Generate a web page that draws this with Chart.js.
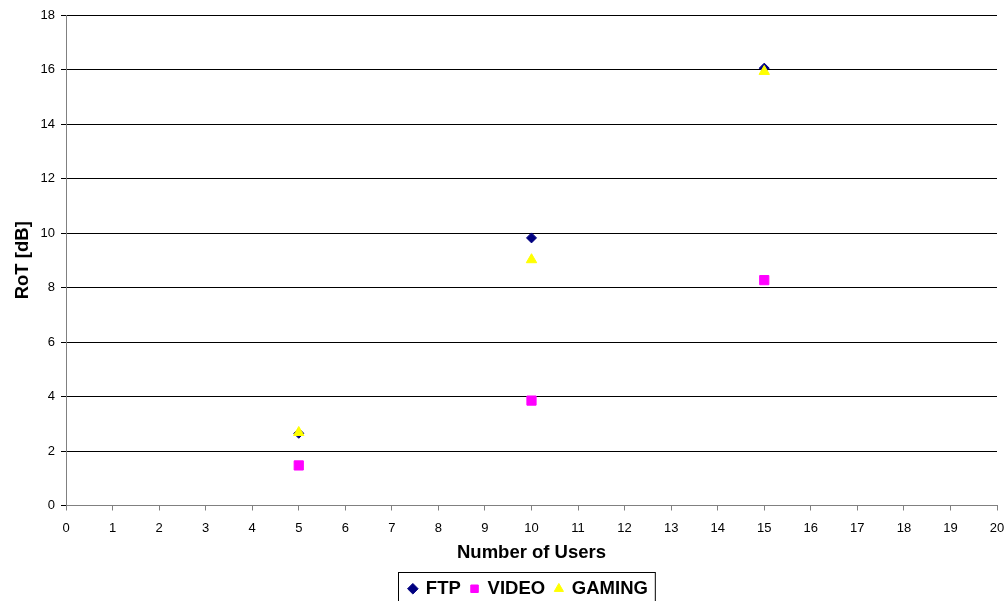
<!DOCTYPE html>
<html>
<head>
<meta charset="utf-8">
<script src="https://cdn.jsdelivr.net/npm/chart.js@4"></script>
<style>
  html, body { margin: 0; padding: 0; background: #fff; overflow: hidden; }
  #wrap { width: 1007px; height: 601px; overflow: hidden; }
</style>
</head>
<body>
<div id="wrap"><canvas id="chart" width="1007" height="608"></canvas></div>
<script>
const users = [5, 10, 15];
const ftp = [2.65, 9.82, 16.05];
const video = [1.47, 3.85, 8.27];
const gaming = [2.68, 9.02, 15.93];

const FONT = 'Arial, "Liberation Sans", sans-serif';

function toPoints(xs, ys) {
  return xs.map((x, i) => ({ x, y: ys[i] }));
}

// Excel-style frame round the legend, legend nudged right like the original
const legendBox = {
  id: 'legendBox',
  afterLayout(chart) {
    const lg = chart.legend;
    if (!lg) return;
    lg.left += 30;
    lg.right += 30;
  },
  afterDraw(chart) {
    const lg = chart.legend;
    if (!lg || !lg.legendHitBoxes.length) return;
    const boxes = lg.legendHitBoxes;
    const left = Math.min(...boxes.map(b => b.left)) - 11;
    const right = Math.max(...boxes.map(b => b.left + b.width)) + 7;
    const top = boxes[0].top - 8;
    const ctx = chart.ctx;
    ctx.save();
    ctx.strokeStyle = '#000';
    ctx.lineWidth = 1;
    ctx.strokeRect(Math.round(left) + 0.5, Math.round(top) + 0.5, right - left, 60);
    ctx.restore();
  }
};

new Chart(document.getElementById('chart'), {
  type: 'scatter',
  data: {
    datasets: [
      { label: 'FTP', data: toPoints(users, ftp), pointStyle: 'rectRot', pointRadius: 5, backgroundColor: '#000080', borderColor: '#000080', borderWidth: 1, order: 3 },
      { label: 'VIDEO', data: toPoints(users, video), pointStyle: 'rect', pointRadius: 6.5, backgroundColor: '#ff00ff', borderColor: '#ff00ff', borderWidth: 1, order: 2 },
      { label: 'GAMING', data: toPoints(users, gaming), pointStyle: 'triangle', pointRadius: 6, backgroundColor: '#ffff00', borderColor: '#ffff00', borderWidth: 1, order: 1 },
    ],
  },
  options: {
    responsive: false,
    animation: false,
    layout: { padding: { top: 15, right: 10, left: 0, bottom: 0 } },
    plugins: {
      tooltip: { enabled: false },
      legend: {
        position: 'bottom',
        labels: {
          usePointStyle: true,
          boxWidth: 7.5,
          boxHeight: 7.5,
          padding: 10,
          color: '#000',
          font: { family: FONT, size: 18.5, weight: 'bold' },
          sort: (a, b) => a.datasetIndex - b.datasetIndex,
        },
      },
    },
    scales: {
      x: {
        type: 'linear',
        min: 0,
        max: 20,
        ticks: { stepSize: 1, color: '#000', padding: 10, font: { family: FONT, size: 13 } },
        grid: { drawOnChartArea: false, drawTicks: true, tickLength: 5, color: '#808080' },
        border: { display: true, color: '#808080' },
        title: { display: true, text: 'Number of Users', color: '#000', padding: { top: 8, bottom: 5 }, font: { family: FONT, size: 18.5, weight: 'bold' } },
        afterFit(scale) {
          scale.height = 64;
          scale.paddingLeft = 0;
          scale.paddingRight = 0;
        },
      },
      y: {
        min: 0,
        max: 18,
        ticks: { stepSize: 2, color: '#000', padding: 6, font: { family: FONT, size: 13 } },
        grid: { color: '#000', tickLength: 5, lineWidth: 1 },
        border: { display: true, color: '#808080' },
        title: { display: true, text: 'RoT [dB]', color: '#000', padding: { top: 12, bottom: 8 }, font: { family: FONT, size: 18.5, weight: 'bold' } },
        afterFit(scale) { scale.width = 66; },
      },
    },
  },
  plugins: [legendBox],
});
</script>
</body>
</html>
